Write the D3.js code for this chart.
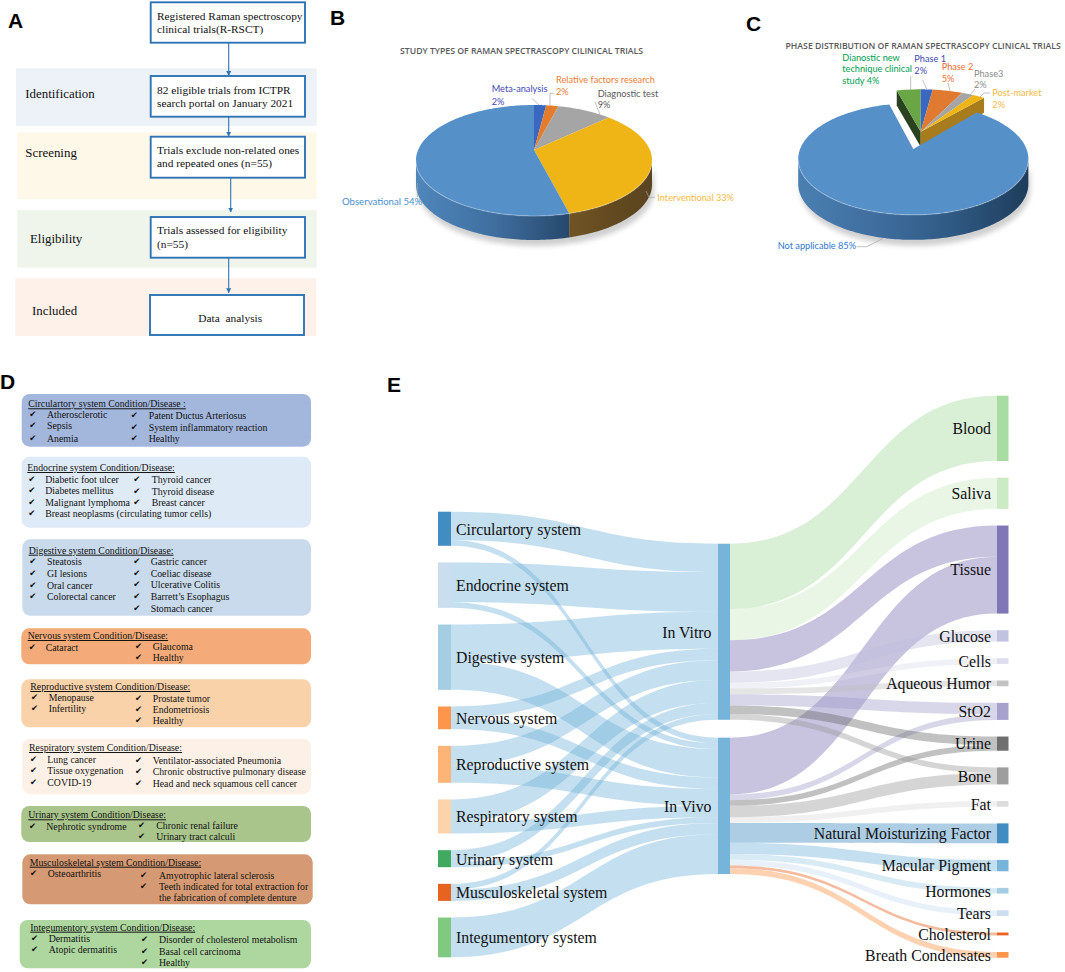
<!DOCTYPE html>
<html><head><meta charset="utf-8">
<script src="https://cdn.jsdelivr.net/npm/d3@7"></script>
<style>
html,body{margin:0;padding:0;background:#fff}
svg{display:block}
.serif{font-family:"Liberation Serif",serif;fill:#111}
.sans{font-family:"Open Sans",sans-serif}
.lato{font-family:"Lato",sans-serif}
.panel{font-family:"Liberation Sans",sans-serif;font-weight:700;font-size:21px;fill:#000}
</style></head><body>
<svg id="fig" width="1065" height="972" viewBox="0 0 1065 972"></svg>
<script>
// ---------- DATA ----------
const flowStages = ["Identification","Screening","Eligibility","Included"];
const flowBoxText = [
  ["Registered Raman spectroscopy","clinical trials(R-RSCT)"],
  ["82 eligible trials from ICTPR","search portal on January 2021"],
  ["Trials exclude non-related ones","and repeated ones (n=55)"],
  ["Trials assessed for eligibility","(n=55)"],
  ["Data  analysis"]
];

const studyTypeNames = ["Meta-analysis","Relative factors research","Diagnostic test","Interventional","Observational"];
const studyTypeValues = [2,2,9,33,54];
const phaseNames = ["Dianostic new technique clinical study","Phase 1","Phase 2","Phase3","Post-market","Not applicable"];
const phaseValues = [4,2,5,2,2,85];

const diseaseHeaders = [
  "Circulartory system Condition/Disease :","Endocrine system Condition/Disease:","Digestive system Condition/Disease:",
  "Nervous system Condition/Disease:","Reproductive system Condition/Disease:","Respiratory system Condition/Disease:",
  "Urinary system Condition/Disease:","Musculoskeletal system Condition/Disease:","Integumentory system Condition/Disease:"
];
const diseaseLeft = [
  ["Atherosclerotic","Sepsis","Anemia"],
  ["Diabetic foot ulcer","Diabetes mellitus","Malignant lymphoma","Breast neoplasms (circulating tumor cells)"],
  ["Steatosis","GI lesions","Oral cancer","Colorectal cancer"],
  ["Cataract"],
  ["Menopause","Infertility"],
  ["Lung cancer","Tissue oxygenation","COVID-19"],
  ["Nephrotic syndrome"],
  ["Osteoarthritis"],
  ["Dermatitis","Atopic dermatitis"]
];
const diseaseRight = [
  ["Patent Ductus Arteriosus","System inflammatory reaction","Healthy"],
  ["Thyroid cancer","Thyroid disease","Breast cancer"],
  ["Gastric cancer","Coeliac disease","Ulcerative Colitis","Barrett\u2019s Esophagus","Stomach cancer"],
  ["Glaucoma","Healthy"],
  ["Prostate tumor","Endometriosis","Healthy"],
  ["Ventilator-associated Pneumonia","Chronic obstructive pulmonary disease","Head and neck squamous cell cancer"],
  ["Chronic renal failure","Urinary tract calculi"],
  ["Amyotrophic lateral sclerosis","Teeth indicated for total extraction for","the fabrication of complete denture"],
  ["Disorder of cholesterol metabolism","Basal cell carcinoma","Healthy"]
];

const sourceNames = ["Circulartory system","Endocrine system","Digestive system","Nervous system","Reproductive system","Respiratory system","Urinary system","Musculoskeletal system","Integumentory system"];
const toVitro = [10,14,13,4,7,8,4,2,0];
const toVivo  = [2,2,10,4,6,4,2,4,14];
const middleNames = ["In Vitro","In Vivo"];
const targetNames = ["Blood","Saliva","Tissue","Glucose","Cells","Aqueous Humor","StO2","Urine","Bone","Fat","Natural Moisturizing Factor","Macular Pigment","Hormones","Tears","Cholesterol","Breath Condensates"];
const fromVitro = [23,11,11,4,2,2,4,3,2,0,0,0,0,0,0,0];
const fromVivo  = [0,0,20,0,0,0,2,2,4,2,7,4,2,2,1,2];

// ---------- STYLE / LAYOUT (not data) ----------
const sourceColors = ["#3182bd","#c6dbef","#9ecae1","#fd8d3c","#fdae6b","#fdd0a2","#31a354","#e6550d","#74c476"];
const targetColors = ["#a1d99b","#c7e9c0","#756bb1","#bcbddc","#dadaeb","#bdbdbd","#9e9ac8","#636363","#969696","#d9d9d9","#3182bd","#6baed6","#9ecae1","#c6dbef","#e6550d","#fd8d3c"];
const middleColor = "#6baed6";
const svg = d3.select("#fig");
const defs = svg.append("defs");
defs.append("marker").attr("id","arr").attr("viewBox","0 0 10 10").attr("refX",9).attr("refY",5)
  .attr("markerWidth",5).attr("markerHeight",5).attr("markerUnits","userSpaceOnUse").attr("orient","auto")
  .append("path").attr("d","M0,0L10,5L0,10Z").attr("fill","#2e74b5");
defs.append("filter").attr("id","blur").attr("x","-20%").attr("y","-20%").attr("width","140%").attr("height","140%")
  .append("feGaussianBlur").attr("stdDeviation",2.5);

// panel letters
[["A",8,28],["B",330,25],["C",746,31],["D",0,389],["E",387,392]].forEach(([t,x,y])=>
  svg.append("text").attr("class","panel").attr("x",x).attr("y",y).text(t));

// ---------- PANEL A ----------
(function(){
  const bands=[[16,68.3,300.7,57.7,"#edf2f9",25.3,97.7],[17.3,132.3,299.4,67,"#fef8e9",25.3,157.3],
               [17.3,210,299.4,57.7,"#f0f5ec",30,242.7],[15.3,278.3,301,57.7,"#fdf1ea",32,315]];
  const boxes=[[150.7,2.3,154.3,40.4,20,33.3],[150.7,76,154.3,40.7,94,106.7],[150.7,136.7,154.3,41,154,166.7],
               [150.7,217,154.3,40.7,234.3,248.3],[150,295,154,40,321.7,0]];
  const g=svg.append("g");
  g.selectAll("rect.band").data(bands).join("rect").attr("class","band")
   .attr("x",d=>d[0]).attr("y",d=>d[1]).attr("width",d=>d[2]).attr("height",d=>d[3]).attr("fill",d=>d[4]);
  g.selectAll("text.st").data(flowStages).join("text").attr("class","serif st").attr("font-size",12.9)
   .attr("x",(d,i)=>bands[i][5]).attr("y",(d,i)=>bands[i][6]).text(d=>d);
  g.selectAll("rect.box").data(boxes).join("rect").attr("class","box")
   .attr("x",d=>d[0]).attr("y",d=>d[1]).attr("width",d=>d[2]).attr("height",d=>d[3])
   .attr("fill","#fff").attr("stroke","#2e74b5").attr("stroke-width",1.9);
  flowBoxText.forEach((lines,i)=>lines.forEach((t,j)=>{
    g.append("text").attr("class","serif").attr("font-size",i===4?11.4:11.35).attr("xml:space","preserve")
     .style("white-space","pre")
     .attr("x",i===4?198.3:157).attr("y",boxes[i][4+j]).text(t);
  }));
  [[228.7,42.7,75.5],[228.7,116.7,136.2],[230.7,177.7,212],[228.7,257.7,292.7]].forEach(a=>
    g.append("line").attr("x1",a[0]).attr("x2",a[0]).attr("y1",a[1]).attr("y2",a[2])
     .attr("stroke","#2e74b5").attr("stroke-width",1.1).attr("marker-end","url(#arr)"));
})();

// ---------- PIES ----------
function grad(id,x1,x2,stops){
  const g=defs.append("linearGradient").attr("id",id).attr("gradientUnits","userSpaceOnUse")
    .attr("x1",x1).attr("x2",x2).attr("y1",0).attr("y2",0);
  stops.forEach((c,i)=>g.append("stop").attr("offset",i/(stops.length-1)).attr("stop-color",c));
  return "url(#"+id+")";
}
function projector(c){ // perspective view of a flat disc
  return th=>{const u=Math.sin(th),v=Math.cos(th),w=1+c.p*v;
    return [c.x+c.R*u/w, c.y-c.Q*v/w];};
}
const line=d3.line();
function arcPts(P,a,b){const n=Math.max(2,Math.ceil(Math.abs(b-a)/0.02));
  return d3.range(n+1).map(i=>P(a+(b-a)*i/n));}
function topPath(c,a,b){return line([[c.x,c.y],...arcPts(projector(c),a,b)])+"Z";}
function wallPath(c,a,b,d){
  const pts=arcPts(projector(c),a,b);
  return line([...pts,...pts.slice().reverse().map(p=>[p[0],p[1]+d])])+"Z";
}
function visibleWall(c,a,b){ // part of an arc on the near side of the disc
  const l=Math.acos(-c.p), r=2*Math.PI-l;
  const s=Math.max(a,l), e=Math.min(b,r);
  return e>s?[s,e]:null;
}
function drawPie(g,c,arcs,colors,walls,depth){
  const wv=visibleWall(c,0,2*Math.PI);
  g.append("path").attr("d",wallPath(c,wv[0],wv[1],depth+3)).attr("transform","translate(2,3)")
   .attr("fill","#777").attr("opacity",.35).attr("filter","url(#blur)");
  arcs.forEach((s,i)=>{
    const v=visibleWall(c,s.startAngle,s.endAngle);
    if(v) g.append("path").attr("d",wallPath(c,v[0],v[1],depth)).attr("fill",walls[i]);
  });
  arcs.forEach((s,i)=>{
    g.append("path").attr("d",topPath(c,s.startAngle,s.endAngle)).attr("fill",colors[i]);
  });
  g.append("path").attr("d",line(arcPts(projector(c),wv[0],wv[1]))).attr("fill","none")
   .attr("stroke","#fff").attr("stroke-opacity",.22).attr("stroke-width",1.4);
}
function drawLabels(g,labels){
  labels.forEach(l=>{
    if(l.lead) g.append("path").attr("d",line(l.lead)).attr("fill","none").attr("stroke","#a6a6a6").attr("stroke-width",.7);
    l.lines.forEach((t,i)=>g.append("text").attr("class","lato").attr("font-size",l.size||9.2)
      .attr("fill",l.color).attr("x",l.x).attr("y",l.y[i]).text(t));
  });
}
(function(){
  const g=svg.append("g");
  g.append("text").attr("class","sans").attr("x",400).attr("y",54).attr("font-size",8.7).attr("font-weight",600)
   .attr("fill","#595959").text("STUDY TYPES OF RAMAN SPECTRASCOPY CILINICAL TRIALS");
  const c={x:534,y:150,R:115.9,Q:53.5,p:.189};
  const arcs=d3.pie().sort(null).value(d=>d)(studyTypeValues);
  const blueWall=grad("gb",417,573,["#4f86bb","#3f6e9f","#26466a"]);
  const yelWall=grad("gy",573,652,["#6f5324","#62491f","#5a4420"]);
  drawPie(g,c,arcs,["#3a68c0","#e57c2c","#a5a5a5","#efb416","#5590c8"],["#2b4d8c","#a85b20","#777",yelWall,blueWall],24);
  drawLabels(g,[
    {lines:["Meta-analysis","2%"],color:"#3f48b5",x:491.7,y:[92,104.7],lead:[[531.7,98.3],[539,105]]},
    {lines:["Relative factors research","2%"],color:"#ed7d31",x:556,y:[82.7,95],lead:[[554,93.3],[550,93.3],[550,106]]},
    {lines:["Diagnostic test","9%"],color:"#595959",x:597.7,y:[96.7,108.3],lead:[[595,101.7],[600,115]]},
    {lines:["Interventional 33%"],color:"#f5b942",x:657.3,y:[200.7],lead:[[655,197.3],[649,197.3],[646,191]]},
    {lines:["Observational 54%"],color:"#4a90cf",x:342,y:[205],size:9.6,lead:[[417.3,183],[417.3,197]]}
  ]);
})();
(function(){
  const g=svg.append("g");
  g.append("text").attr("class","sans").attr("x",785.5).attr("y",49).attr("font-size",8.7).attr("font-weight",600)
   .attr("fill","#595959").text("PHASE DISTRIBUTION OF RAMAN SPECTRASCOPY CLINICAL TRIALS");
  const start=-2*Math.PI*phaseValues[0]/d3.sum(phaseValues);
  const arcs=d3.pie().sort(null).value(d=>d).startAngle(start).endAngle(start+2*Math.PI)(phaseValues);
  const small={x:920.7,y:131.7,R:113.2,Q:50,p:.18}, d0=15;
  const P=projector(small);
  const face=(th,col)=>{const p=P(th);
    g.append("path").attr("d",line([[small.x,small.y],p,[p[0],p[1]+d0],[small.x,small.y+d0]])+"Z").attr("fill",col);};
  face(arcs[0].startAngle,"#2a4220");
  face(arcs[4].endAngle,"#a67c1c");
  ["#6aa546","#3a68c0","#e07a30","#a5a5a5","#efb416"].forEach((col,i)=>
    g.append("path").attr("d",topPath(small,arcs[i].startAngle,arcs[i].endAngle)).attr("fill",col));
  const c={x:913.3,y:149,R:113.2,Q:54,p:.18};
  const main=arcs[5];
  const wallFill=grad("gc",798,1028,["#4b7fb2","#3f6e9f","#2f5a84","#1f3d5c"]);
  const l=Math.acos(-c.p), r=2*Math.PI-l;
  g.append("path").attr("d",wallPath(c,l+0,r,28)).attr("transform","translate(2,3)")
    .attr("fill","#777").attr("opacity",.35).attr("filter","url(#blur)");
  g.append("path").attr("d",wallPath(c,l,r,25)).attr("fill",wallFill);
  g.append("path").attr("d",topPath(c,main.startAngle,main.endAngle)).attr("fill","#5590c8");
  g.append("path").attr("d",line(arcPts(projector(c),l,r))).attr("fill","none")
   .attr("stroke","#fff").attr("stroke-opacity",.22).attr("stroke-width",1.4);
  drawLabels(g,[
    {lines:["Dianostic new","technique clinical","study 4%"],color:"#00a050",x:842.3,y:[60.7,72.3,84],lead:[[910.7,76],[910.7,89]]},
    {lines:["Phase 1","2%"],color:"#3f48b5",x:914.3,y:[62.3,73.7],lead:[[922.7,80],[926.7,89]]},
    {lines:["Phase 2","5%"],color:"#ed6d31",x:941.7,y:[70.3,81.7],lead:[[948,83],[950,91]]},
    {lines:["Phase3","2%"],color:"#8c8c8c",x:974,y:[76.7,88],lead:[[975,89],[970,95]]},
    {lines:["Post-market","2%"],color:"#f5b942",x:992.3,y:[96.3,108],lead:[[990,93],[984,93],[980,97]]},
    {lines:["Not applicable 85%"],color:"#2f78d0",x:777.7,y:[249.3],lead:[[856.7,246.7],[866.7,246.7],[883.3,238.3]]}
  ]);
})();

// ---------- PANEL D ----------
(function(){
  const boxes=[[21.7,394,289.3,52.7,"#a3b7dc"],[21.7,456.7,289.3,71,"#deeaf6"],[22.3,539.3,288.7,76.4,"#c8daec"],
    [21.3,628.3,289.7,36,"#f4ab79"],[21.3,679.3,289.7,48,"#f9d2aa"],[22.3,738.7,288.7,55.6,"#fdf1e7"],
    [21.3,806,289.7,36,"#a9c58c"],[22.3,854.3,290.4,50,"#d59a73"],[19.7,920,291.3,48.3,"#aed7a0"]];
  const head=[[28.3,407.3],[27.3,471],[28.7,553.7],[27.7,639],[30.3,690],[29,751],[28.3,818.3],[29.7,865.7],[30.3,930.7]];
  const col1=[[29.3,47,[418.3,429.3,441.7]],[28.3,45.3,[482.7,494,506,517.3]],[29.3,47,[565.3,576.7,589,600]],
    [28.7,45.7,[650.7]],[31,48.7,[701,712]],[30,47.3,[762.7,774,786]],[29,46.3,[830]],[30,47.7,[876.7]],[31,48.7,[941.7,953.3]]];
  const col2=[[130.7,148.7,[419.3,431,441.7]],[133.3,151.7,[483.3,495,506]],[133.3,150.7,[565.3,576.7,588,600,611.7]],
    [135,152.7,[650,661]],[135,152.7,[701.7,713,724.3]],[135,152.7,[764,775.3,786.7]],[138,156.3,[829,840.3]],
    [140,159,[878.7,890,901.3]],[141,159,[943.3,955,966.3]]];
  const g=svg.append("g");
  g.selectAll("rect").data(boxes).join("rect").attr("x",d=>d[0]).attr("y",d=>d[1]).attr("width",d=>d[2]).attr("height",d=>d[3])
   .attr("rx",8).attr("fill",d=>d[4]);
  const fs=9.8;
  diseaseHeaders.forEach((t,i)=>{
    g.append("text").attr("class","serif").attr("font-size",fs).attr("text-decoration","underline")
     .attr("x",head[i][0]).attr("y",head[i][1]).text(t);
    [[diseaseLeft[i],col1[i]],[diseaseRight[i],col2[i]]].forEach(([items,pos])=>{
      items.forEach((it,j)=>{
        const cont = it.startsWith("the fabrication");
        g.append("text").attr("class","serif").attr("font-size",fs).attr("x",pos[1]).attr("y",pos[2][j]).text(it);
        if(!cont) g.append("text").attr("font-family","DejaVu Sans").attr("font-size",8.5).attr("fill","#111")
          .attr("x",pos[0]).attr("y",pos[2][j]-1).text("\u2714");
      });
    });
  });
})();

// ---------- PANEL E : Sankey ----------
(function(){
  const total=d3.sum(toVitro)+d3.sum(toVivo);
  const h=d3.scaleLinear().domain([0,total]).range([0,312.4]);
  const X={s0:438,s1:451,m0:718,m1:730,t0:997,t1:1008.5};
  function column(vals,top,gap){let y=top;
    return vals.map(v=>{const n={y0:y,y1:y+h(v),cur:y};y=n.y1+gap;return n;});}
  const srcTot=sourceNames.map((_,i)=>toVitro[i]+toVivo[i]);
  const tgtTot=targetNames.map((_,i)=>fromVitro[i]+fromVivo[i]);
  const midTot=[d3.sum(toVitro),d3.sum(toVivo)];
  const S=column(srcTot,511.7,16.65), M=column(midTot,543.7,17.9), T=column(tgtTot,395.7,16.64);
  M.forEach(m=>m.out=m.y0);
  const gen=d3.linkHorizontal();
  function ribbon(x0,a,x1,b,v){
    const t=h(v);
    const top=gen({source:[x0,a],target:[x1,b]});
    const bot=gen({source:[x1,b+t],target:[x0,a+t]});
    return top+"L"+bot.slice(1)+"Z";
  }
  const links=[];
  sourceNames.forEach((_,i)=>{
    [toVitro[i],toVivo[i]].forEach((v,k)=>{
      if(!v) return;
      links.push({d:ribbon(X.s1,S[i].cur,X.m0,M[k].cur,v),c:middleColor});
      S[i].cur+=h(v); M[k].cur+=h(v);
    });
  });
  targetNames.forEach((_,i)=>{
    [fromVitro[i],fromVivo[i]].forEach((v,k)=>{
      if(!v) return;
      links.push({d:ribbon(X.m1,M[k].out,X.t0,T[i].cur,v),c:targetColors[i]});
      M[k].out+=h(v); T[i].cur+=h(v);
    });
  });
  const g=svg.append("g");
  g.selectAll("path.l").data(links).join("path").attr("class","l").attr("d",d=>d.d).attr("fill",d=>d.c).attr("fill-opacity",.4);
  const rects=[
    ...S.map((n,i)=>({x:X.s0,w:X.s1-X.s0,n,c:sourceColors[i]})),
    ...M.map(n=>({x:X.m0,w:X.m1-X.m0,n,c:middleColor})),
    ...T.map((n,i)=>({x:X.t0,w:X.t1-X.t0,n,c:targetColors[i]}))];
  g.selectAll("rect").data(rects).join("rect").attr("x",d=>d.x).attr("width",d=>d.w)
    .attr("y",d=>d.n.y0).attr("height",d=>d.n.y1-d.n.y0).attr("fill",d=>d.c).attr("fill-opacity",.92);
  const lab=(names,nodes,x,anchor)=>names.forEach((t,i)=>
    g.append("text").attr("class","serif").attr("font-size",15.8).attr("x",x).attr("text-anchor",anchor)
     .attr("y",(nodes[i].y0+nodes[i].y1)/2).attr("dy","0.37em").text(t));
  lab(sourceNames,S,456,"start");
  lab(middleNames,M,711.5,"end");
  lab(targetNames,T,991,"end");
})();
</script>
</body></html>
